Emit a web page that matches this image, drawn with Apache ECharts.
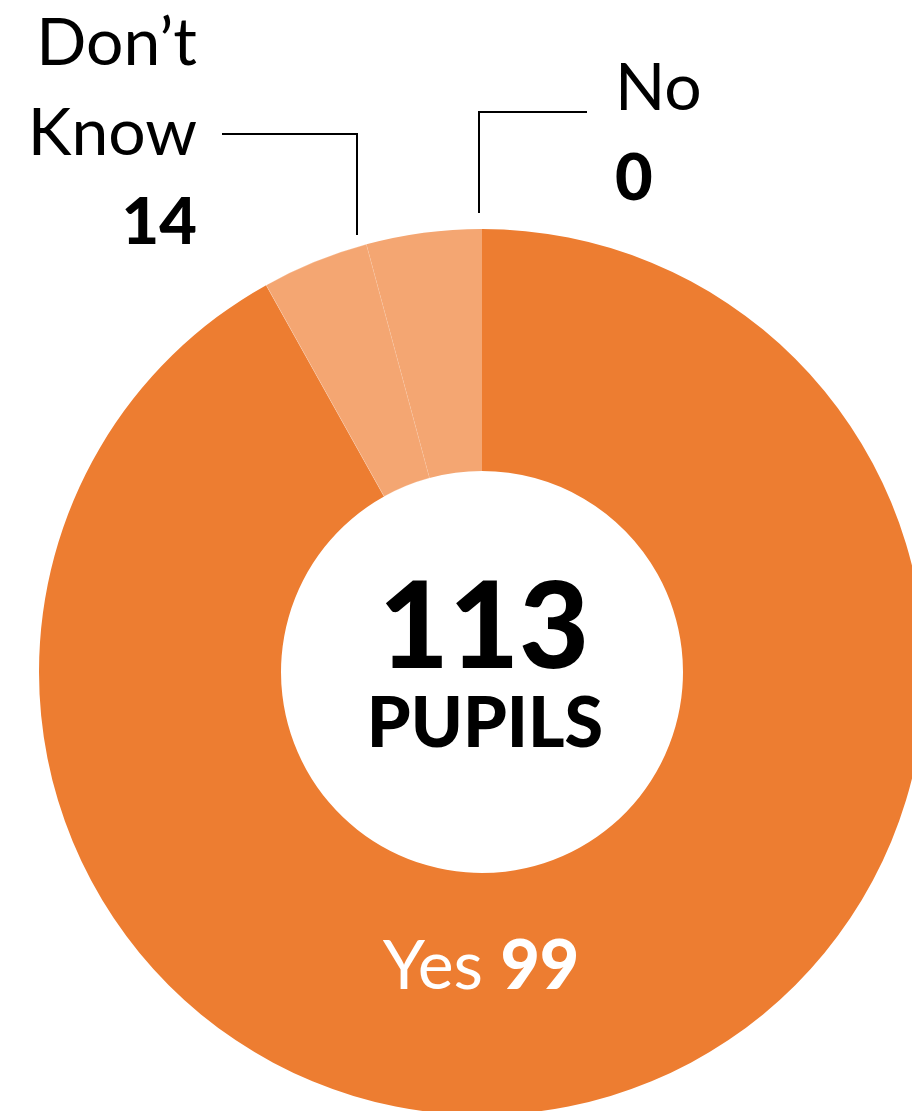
<!DOCTYPE html>
<html>
<head>
<meta charset="utf-8">
<title>Pupils donut</title>
<script src="https://cdn.jsdelivr.net/npm/echarts@6/dist/echarts.min.js"></script>
<style>
  html, body { margin: 0; padding: 0; background: #fff; }
  #chart { width: 912px; height: 1111px; }
</style>
</head>
<body>
<div id="chart"></div>
<script>
// answers and the counts printed next to them
const categories = ['Yes', 'Don’t Know', 'No']
const counts = [99, 14, 0]
// share of the ring each slice takes in the picture (percent)
const sliceShares = [91.9, 3.9, 4.2]
const totalPupils = 113
const totalLabel = 'PUPILS'

const font = 'Lato, "Open Sans", sans-serif'
const cx = 482
const cy = 672

const chart = echarts.init(document.getElementById('chart'))

const dkWords = categories[1].split(' ')

function label(x, y, text, size, weight, align) {
  return {
    type: 'text', x: x, y: y, z: 100,
    style: {
      text: text,
      fontSize: size,
      fontWeight: weight,
      fontFamily: font,
      fill: '#000',
      align: align,
      verticalAlign: 'middle'
    }
  }
}

chart.setOption({
  backgroundColor: '#ffffff',
  animation: false,
  series: [{
    type: 'pie',
    center: [cx, cy],
    radius: [201, 443],
    startAngle: 90,
    clockwise: true,
    silent: true,
    label: { show: false },
    labelLine: { show: false },
    emphasis: { disabled: true },
    data: categories.map((name, i) => ({
      name: name,
      value: sliceShares[i],
      itemStyle: {
        color: i === 0 ? '#ED7D31' : '#F4A672',
        borderColor: i === 1 ? 'rgba(255,255,255,0.35)' : 'transparent',
        borderWidth: i === 1 ? 0.6 : 0
      }
    }))
  }],
  graphic: [
    // leader lines
    {
      type: 'polyline', z: 100,
      shape: { points: [[222, 134], [357, 134], [357, 235]] },
      style: { stroke: '#000', lineWidth: 2, fill: null }
    },
    {
      type: 'polyline', z: 100,
      shape: { points: [[587, 112], [479, 112], [479, 213]] },
      style: { stroke: '#000', lineWidth: 2, fill: null }
    },
    // Don't Know label
    label(197, 44, dkWords[0], 66, 'normal', 'right'),
    label(197, 134, dkWords[1], 66, 'normal', 'right'),
    label(197, 223, String(counts[1]), 65, 900, 'right'),
    // No label
    label(615, 89, categories[2], 66, 'normal', 'left'),
    label(615, 179, String(counts[2]), 65, 900, 'left'),
    // centre total
    label(484, 629, String(totalPupils), 121, 900, 'center'),
    label(485, 724, totalLabel, 70, 900, 'center'),
    // Yes label inside the ring
    {
      type: 'text', x: 481, y: 967, z: 100,
      style: {
        text: '{a|' + categories[0] + '} {b|' + counts[0] + '}',
        align: 'center',
        verticalAlign: 'middle',
        fontSize: 68,
        fontFamily: font,
        fill: '#fff',
        rich: {
          a: { fontSize: 68, fontFamily: font, fontWeight: 'normal', fill: '#fff' },
          b: { fontSize: 68, fontFamily: font, fontWeight: 900, fill: '#fff' }
        }
      }
    }
  ]
})
</script>
</body>
</html>
